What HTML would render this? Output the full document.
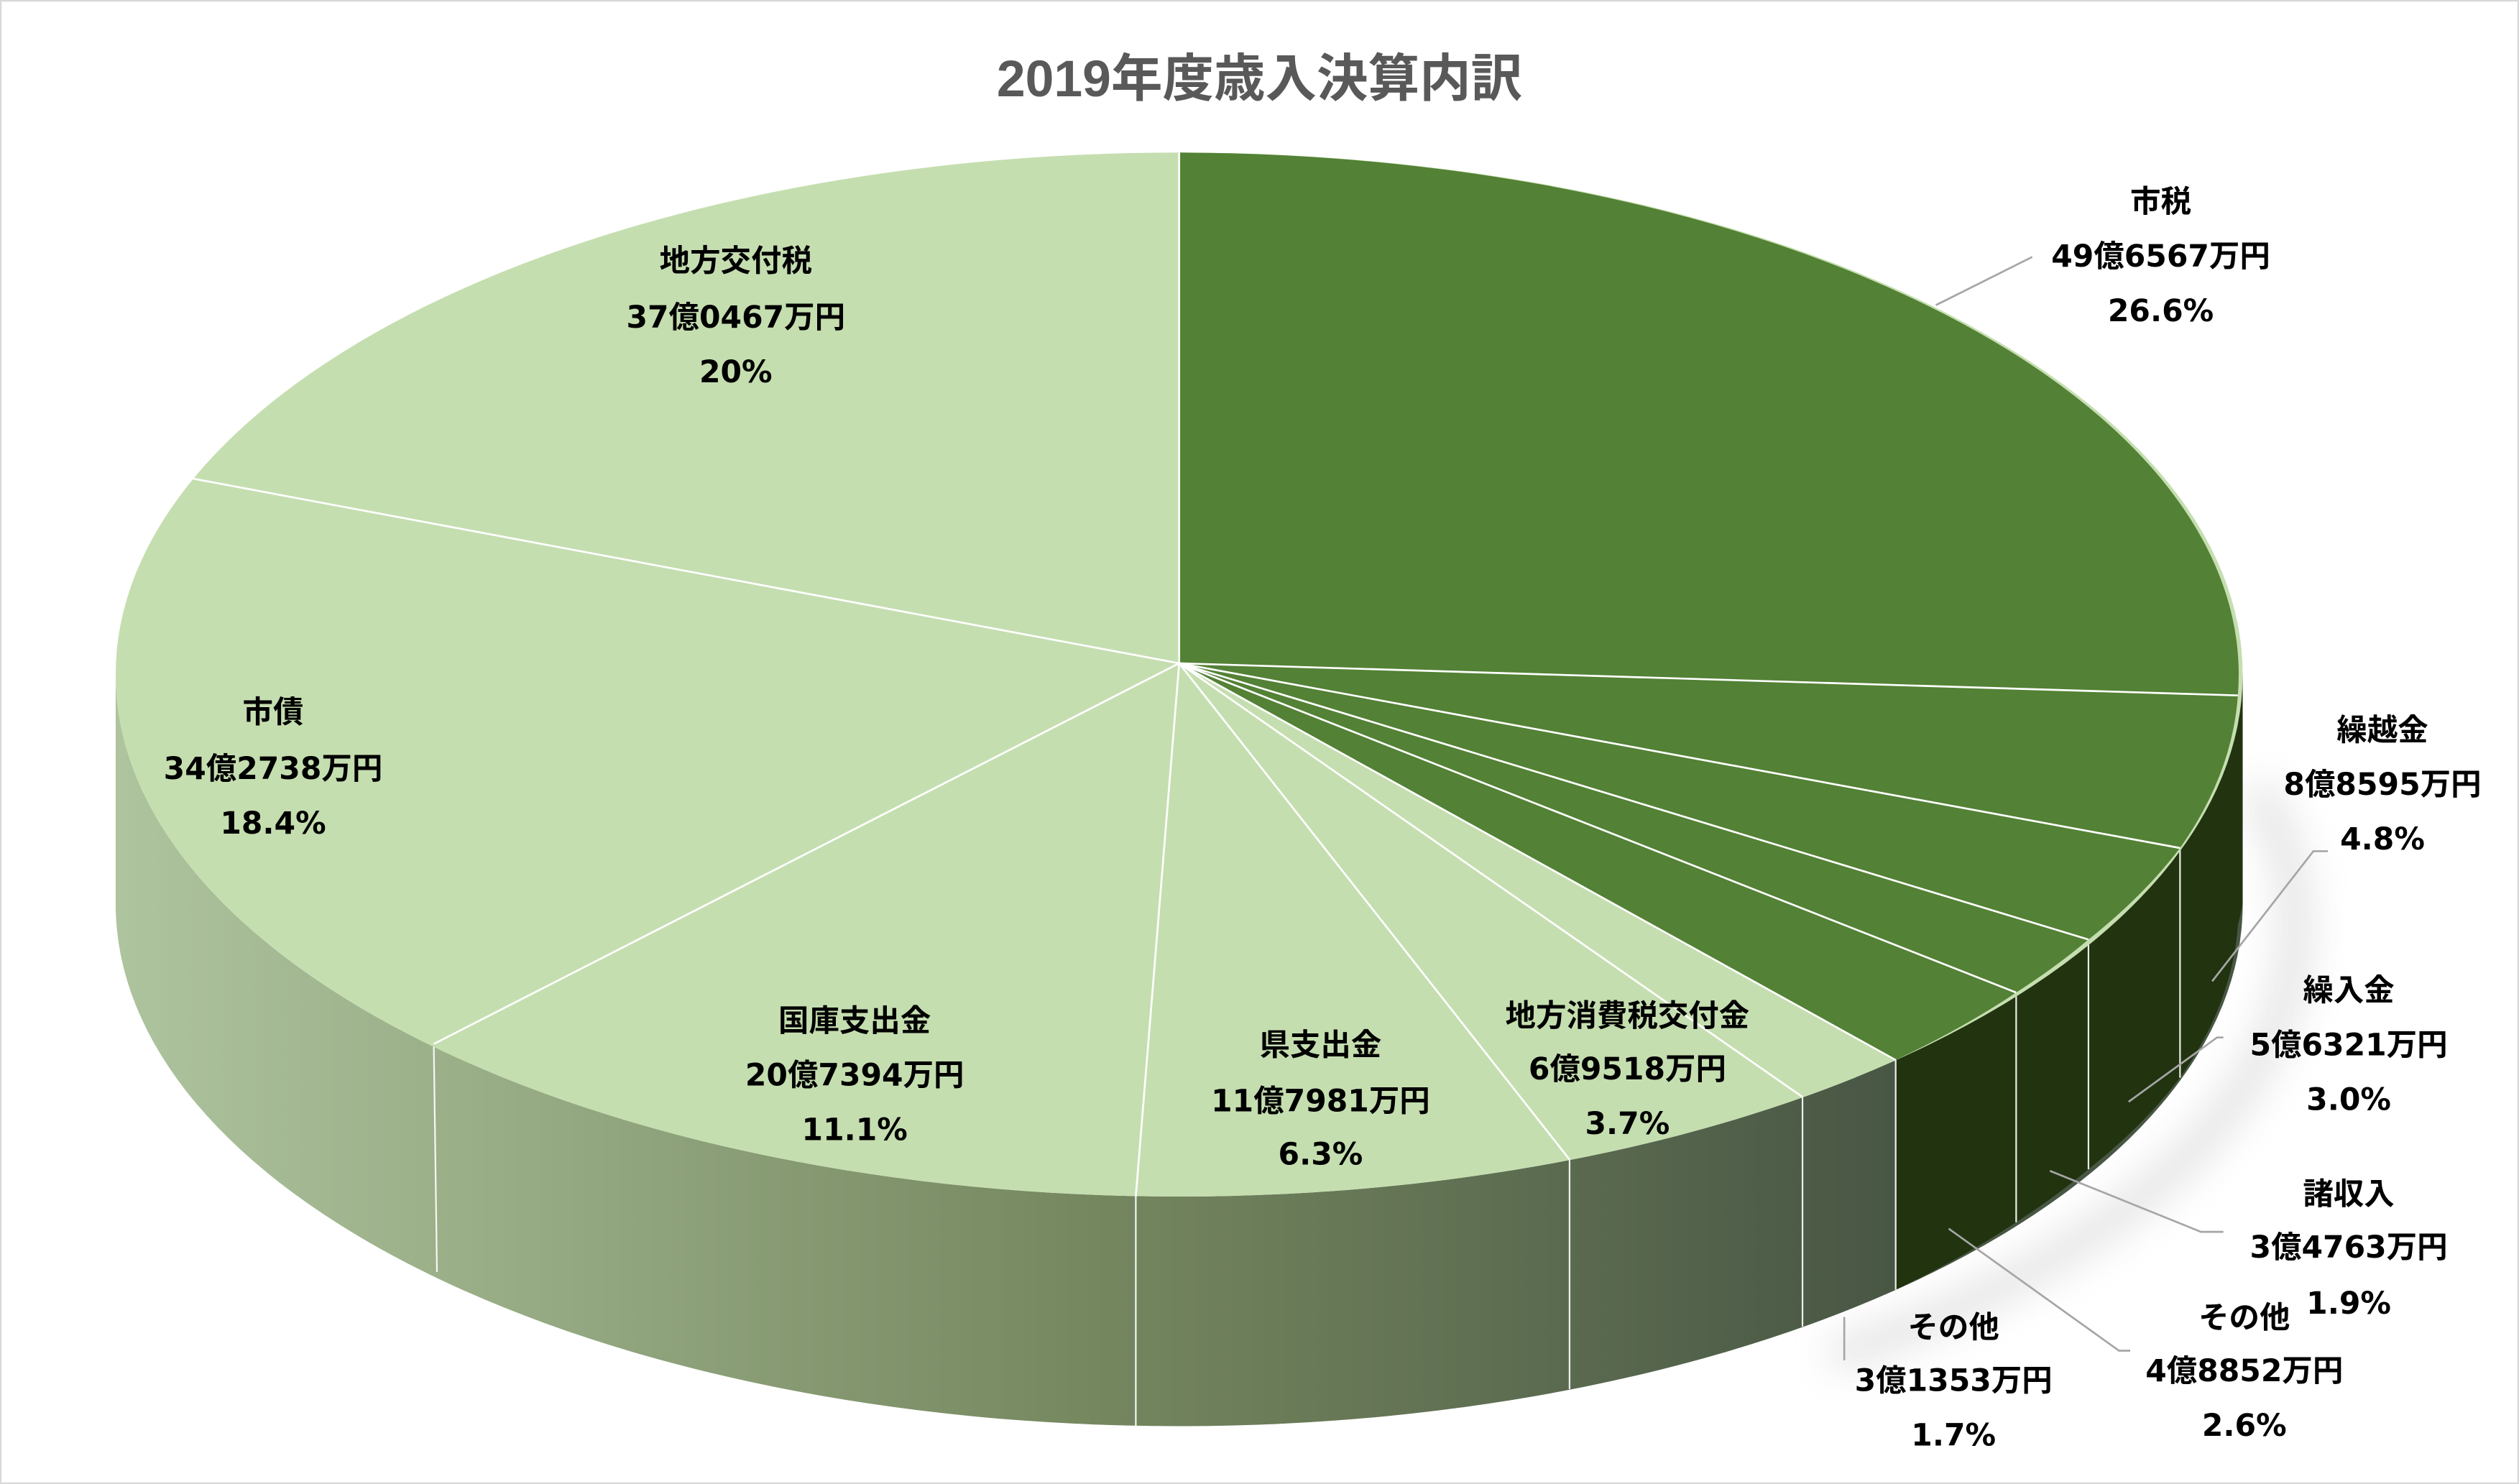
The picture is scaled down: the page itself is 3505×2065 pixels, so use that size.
<!DOCTYPE html>
<html><head><meta charset="utf-8"><style>
html,body{margin:0;padding:0;background:#fff;}
svg{display:block;}
text{font-family:"DejaVu Sans","Noto Sans CJK JP",sans-serif;font-weight:bold;text-anchor:middle;}
</style></head><body>
<svg width="3505" height="2065" viewBox="0 0 1568 924" preserveAspectRatio="none" xmlns="http://www.w3.org/2000/svg">
<defs>
<linearGradient id="side" x1="72" y1="0" x2="1180" y2="0" gradientUnits="userSpaceOnUse">
<stop offset="0" stop-color="#aec49e"/>
<stop offset="0.55" stop-color="#75875f"/>
<stop offset="1" stop-color="#485644"/>
</linearGradient>
<filter id="blur" x="-30%" y="-30%" width="160%" height="160%"><feGaussianBlur stdDeviation="12"/></filter>
</defs>
<rect x="0.5" y="0.5" width="1567" height="923" fill="#fff" stroke="#d9d9d9" stroke-width="1"/>
<text x="784" y="60" font-size="32" fill="#595959" style="font-family:'Liberation Sans','Noto Sans CJK JP',sans-serif">2019年度歳入決算内訳</text>
<!-- shadow -->
<path d="M1405,490 A662 325 0 0 1 1140,845" stroke="#aaa" stroke-width="18" fill="none" opacity="0.35" filter="url(#blur)"/>
<!-- side -->
<path d="M1396,420 A662 325 0 0 1 72,420 L72,563 A662 325 0 0 0 1396,563 Z" fill="url(#side)"/>
<path d="M1396,420 A662 325 0 0 1 1393,433 A662 325 0 0 1 1357,528 A662 325 0 0 1 1300,585 A662 325 0 0 1 1255,618 A662 325 0 0 1 1180,660 L1180,803 A662 325 0 0 0 1255,761 A662 325 0 0 0 1300,728 A662 325 0 0 0 1357,671 A662 325 0 0 0 1393,576 A662 325 0 0 0 1396,563 Z" fill="#21330f"/>
<g stroke="#fff" stroke-width="1" opacity="0.9">
<line x1="1357" y1="528" x2="1357" y2="671"/>
<line x1="1300" y1="585" x2="1300" y2="728"/>
<line x1="1255" y1="618" x2="1255" y2="761"/>
<line x1="1180" y1="660" x2="1180" y2="803"/>
<line x1="1122" y1="683" x2="1122" y2="826"/>
<line x1="977" y1="722" x2="977" y2="865"/>
<line x1="707" y1="745" x2="707" y2="888"/>
<line x1="270" y1="650" x2="272" y2="792"/>
</g>
<!-- top -->
<ellipse cx="734" cy="420" rx="662" ry="325" fill="#c5deb0"/>
<path d="M734,413 L734,95 A662 325 0 0 1 1393,433 A662 325 0 0 1 1357,528 A662 325 0 0 1 1300,585 A662 325 0 0 1 1255,618 A662 325 0 0 1 1180,660 Z" fill="#538135" stroke="none"/>
<g stroke="#fff" stroke-width="1.2">
<line x1="734" y1="413" x2="734" y2="95"/>
<line x1="734" y1="413" x2="1393" y2="433"/>
<line x1="734" y1="413" x2="1357" y2="528"/>
<line x1="734" y1="413" x2="1300" y2="585"/>
<line x1="734" y1="413" x2="1255" y2="618"/>
<line x1="734" y1="413" x2="1180" y2="660"/>
<line x1="734" y1="413" x2="1122" y2="683"/>
<line x1="734" y1="413" x2="977" y2="722"/>
<line x1="734" y1="413" x2="707" y2="745"/>
<line x1="734" y1="413" x2="270" y2="650"/>
<line x1="734" y1="413" x2="120" y2="298"/>
</g>
<!-- leaders -->
<g stroke="#a6a6a6" stroke-width="1.2" fill="none">
<polyline points="1265,160 1205,190"/>
<polyline points="1449,530 1440,530 1377,611"/>
<polyline points="1384,646 1380,646 1325,686"/>
<polyline points="1384,767 1370,767 1276,729"/>
<polyline points="1326,841 1319,841 1213,765"/>
<polyline points="1148,820 1148,847"/>
</g>
<g font-size="19" fill="#000">
<text x="1345" y="132">市税</text><text x="1345" y="166">49億6567万円</text><text x="1345" y="200">26.6%</text>
<text x="458" y="169">地方交付税</text><text x="458" y="204">37億0467万円</text><text x="458" y="238">20%</text>
<text x="170" y="450">市債</text><text x="170" y="485">34億2738万円</text><text x="170" y="519">18.4%</text>
<text x="532" y="642">国庫支出金</text><text x="532" y="676">20億7394万円</text><text x="532" y="710">11.1%</text>
<text x="822" y="657">県支出金</text><text x="822" y="692">11億7981万円</text><text x="822" y="725">6.3%</text>
<text x="1013" y="639">地方消費税交付金</text><text x="1013" y="672">6億9518万円</text><text x="1013" y="706">3.7%</text>
<text x="1483" y="461">繰越金</text><text x="1483" y="495">8億8595万円</text><text x="1483" y="529">4.8%</text>
<text x="1462" y="623">繰入金</text><text x="1462" y="657">5億6321万円</text><text x="1462" y="691">3.0%</text>
<text x="1462" y="750">諸収入</text><text x="1462" y="783">3億4763万円</text><text x="1462" y="818">1.9%</text>
<text x="1397" y="827">その他</text><text x="1397" y="860">4億8852万円</text><text x="1397" y="894">2.6%</text>
<text x="1216" y="833">その他</text><text x="1216" y="866">3億1353万円</text><text x="1216" y="900">1.7%</text>
</g>
</svg>
</body></html>
